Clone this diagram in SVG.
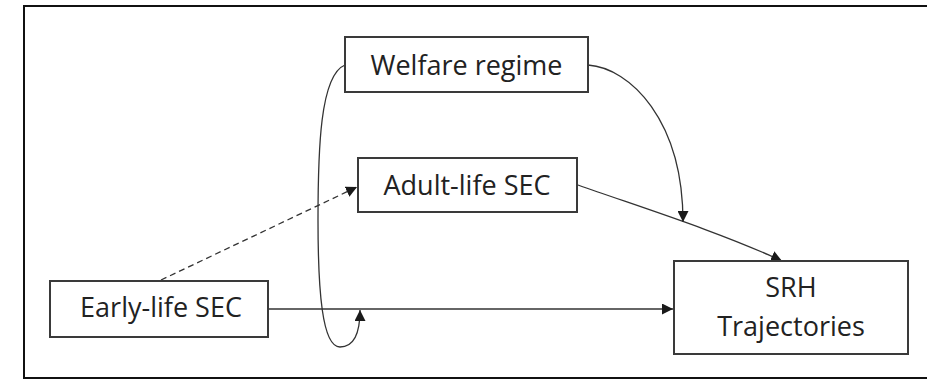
<svg xmlns="http://www.w3.org/2000/svg" width="927" height="380" viewBox="0 0 927 380">
<defs>
<marker id="ah" viewBox="0 0 10 10" refX="10" refY="5" markerWidth="11" markerHeight="11" markerUnits="userSpaceOnUse" orient="auto">
<path d="M0,0 L10,5 L0,10 Z" fill="#1a1a1a"/>
</marker>
</defs>
<style>
.box{fill:#fff;stroke:#3a3a3a;stroke-width:2}
.lbl{font-family:"Open Sans","Liberation Sans",sans-serif;font-size:27px;fill:#222;text-anchor:middle}
.con{fill:none;stroke:#333;stroke-width:1.3;marker-end:url(#ah)}
.dash{stroke-dasharray:6,4}
</style>
<rect x="0" y="0" width="927" height="380" fill="#fff"/>
<rect x="24" y="6" width="910" height="372" fill="none" stroke="#111" stroke-width="2"/>
<g id="connectors">
<path class="con dash" d="M161,280 L357,187"/>
<path class="con" d="M268,309 L673,309"/>
<path class="con" d="M578,185 C640,207 720,232 782,261"/>
<path class="con" d="M588,65 C630,68 683,120 683,222"/>
<path class="con" d="M345,65 C320,75 318,150 318,220 C318,290 322,347 340,347 C355,347 360,330 360,310"/>
</g>
<g id="welfare">
<rect class="box" x="345" y="37" width="243" height="55"/>
<text class="lbl" x="466.5" y="75">Welfare regime</text>
</g>
<g id="adult">
<rect class="box" x="358" y="158" width="219" height="54"/>
<text class="lbl" x="467" y="195">Adult-life SEC</text>
</g>
<g id="early">
<rect class="box" x="50" y="281" width="218" height="56"/>
<text class="lbl" x="161" y="317">Early-life SEC</text>
</g>
<g id="srh">
<rect class="box" x="674" y="261" width="234" height="93"/>
<text class="lbl" x="791" y="297">SRH</text>
<text class="lbl" x="791" y="336">Trajectories</text>
</g>
</svg>
